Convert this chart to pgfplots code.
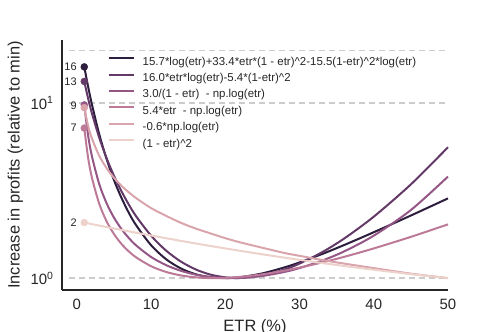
\documentclass[border=0pt]{standalone}
\usepackage{fontspec}
\setmainfont{Liberation Sans}
\usepackage{pgfplots}
\usepackage{pgfplotstable}
\pgfplotsset{compat=1.18}

\definecolor{c1}{HTML}{2D1E3E}
\definecolor{c2}{HTML}{633967}
\definecolor{c3}{HTML}{945685}
\definecolor{c4}{HTML}{BD7A98}
\definecolor{c5}{HTML}{DAA4AC}
\definecolor{c6}{HTML}{EDD1CB}
\definecolor{tc}{HTML}{262626}
\definecolor{dashgray}{HTML}{CCCCCC}

% ETR in %, profit increase relative to the minimum of each curve
\pgfplotstableread{
e    s1     s2     s3     s4     s5    s6
1    16.08  13.28  9.75   7.19   9.41  2.075
1.5  12.52  10.69  6.60   4.925  7.46  2.055
2    9.95   8.83   5.03   3.795  6.32  2.035
3    6.67   6.37   3.46   2.670  5.01  1.996
4    4.80   4.85   2.68   2.114  4.25  1.957
5    3.63   3.84   2.215  1.785  3.74  1.920
6    2.88   3.14   1.909  1.570  3.37  1.884
7    2.36   2.63   1.694  1.420  3.09  1.849
8    2.00   2.25   1.535  1.312  2.86  1.816
10   1.541  1.747  1.320  1.169  2.51  1.751
12   1.284  1.438  1.187  1.085  2.27  1.690
14   1.136  1.244  1.101  1.036  2.07  1.632
16   1.052  1.121  1.047  1.010  1.92  1.577
18   1.011  1.047  1.015  1.000  1.80  1.526
20   1.000  1.010  1.001  1.003  1.69  1.477
22   1.012  1.001  1.002  1.016  1.60  1.431
25   1.064  1.034  1.029  1.051  1.49  1.367
28   1.152  1.120  1.085  1.104  1.39  1.308
30   1.229  1.210  1.141  1.148  1.34  1.271
33   1.370  1.402  1.256  1.227  1.27  1.220
36   1.544  1.681  1.420  1.322  1.21  1.173
40   1.828  2.243  1.747  1.477  1.14  1.116
45   2.277  3.43   2.447  1.720  1.06  1.054
50   2.853  5.59   3.80   2.027  1.00  1.000
}\curves

\begin{document}
\begin{tikzpicture}
\path[use as bounding box] (-62bp,-42bp) rectangle (436bp,290bp);
\begin{axis}[
  scale only axis,
  width=386bp, height=250bp,
  xmin=-2, xmax=50,
  ymode=log, ymin=0.855, ymax=22.9,
  clip=false,
  axis x line*=bottom, axis y line*=left,
  axis line style={line width=1.25bp, color=tc},
  major tick length=0pt, minor tick length=0pt,
  xtick={0,10,20,30,40,50},
  ytick={1,10}, yticklabels={10\textsuperscript{0},10\textsuperscript{1}},
  tick label style={font=\fontsize{15}{17}\selectfont, text=tc},
  /pgf/number format/assume math mode=true,
  xticklabel style={yshift=-6bp},
  yticklabel style={xshift=-5bp},
  xlabel={ETR (\%)},
  ylabel={Increase in profits (relative to min)},
  label style={font=\fontsize{16.5}{19}\selectfont, text=tc},
  xlabel style={at={(axis description cs:0.5,0)}, anchor=center, yshift=-37bp},
  ylabel style={at={(axis description cs:-0.1205,0.5)}, anchor=center},
  legend cell align=left,
  legend image code/.code={\draw[#1, line width=2bp] (0bp,4bp) -- (25bp,4bp);},
  legend style={at={(axis description cs:0.118,0.936)}, anchor=north west,
    draw=none, fill=none, inner sep=0pt, row sep=4.4bp, column sep=8bp,
    font=\fontsize{11.5}{13}\selectfont, text=tc,
    nodes={inner sep=0pt, text height=9bp, text depth=3bp}},
]

% reference lines
\addplot[dashgray, line width=1.3bp, dash pattern=on 6bp off 4bp, forget plot] coordinates {(-1,1) (50,1)};
\addplot[dashgray, line width=1.3bp, dash pattern=on 6bp off 4bp, forget plot] coordinates {(-1,10) (50,10)};
\addplot[dashgray, line width=1.3bp, dash pattern=on 6bp off 4bp, forget plot] coordinates {(-1,20) (50,20)};

\addplot[c1, line width=2bp, smooth, no markers] table[x=e, y=s1] {\curves};
\addlegendentry{15.7*log(etr)+33.4*etr*(1 - etr)\textasciicircum 2-15.5(1-etr)\textasciicircum 2*log(etr)}
\addplot[c2, line width=2bp, smooth, no markers] table[x=e, y=s2] {\curves};
\addlegendentry{16.0*etr*log(etr)-5.4*(1-etr)\textasciicircum 2}
\addplot[c3, line width=2bp, smooth, no markers] table[x=e, y=s3] {\curves};
\addlegendentry{3.0/(1 - etr)\ \ - np.log(etr)}
\addplot[c4, line width=2bp, smooth, no markers] table[x=e, y=s4] {\curves};
\addlegendentry{5.4*etr\ \ - np.log(etr)}
\addplot[c5, line width=2bp, smooth, no markers] table[x=e, y=s5] {\curves};
\addlegendentry{-0.6*np.log(etr)}
\addplot[c6, line width=2bp, smooth, no markers] table[x=e, y=s6] {\curves};
\addlegendentry{(1 - etr)\textasciicircum 2}

% start points
\addplot[only marks, mark=*, mark size=3.5bp, c1, forget plot] coordinates {(1,16.08)};
\addplot[only marks, mark=*, mark size=3.5bp, c2, forget plot] coordinates {(1,13.28)};
\addplot[only marks, mark=*, mark size=3.5bp, c3, forget plot] coordinates {(1,9.75)};
\addplot[only marks, mark=*, mark size=3.5bp, c4, forget plot] coordinates {(1,7.19)};
\addplot[only marks, mark=*, mark size=3.5bp, c5, forget plot] coordinates {(1,9.41)};
\addplot[only marks, mark=*, mark size=3.5bp, c6, forget plot] coordinates {(1,2.075)};

% the two curves starting near 9 share one label
\node[anchor=east, inner sep=0pt, font=\fontsize{11}{13}\selectfont, text=tc] at (axis cs:0,16.08) {16};
\node[anchor=east, inner sep=0pt, font=\fontsize{11}{13}\selectfont, text=tc] at (axis cs:0,13.28) {13};
\node[anchor=east, inner sep=0pt, font=\fontsize{11}{13}\selectfont, text=tc] at (axis cs:0,9.6) {9};
\node[anchor=east, inner sep=0pt, font=\fontsize{11}{13}\selectfont, text=tc] at (axis cs:0,7.19) {7};
\node[anchor=east, inner sep=0pt, font=\fontsize{11}{13}\selectfont, text=tc] at (axis cs:0,2.075) {2};

\end{axis}
\end{tikzpicture}
\end{document}
